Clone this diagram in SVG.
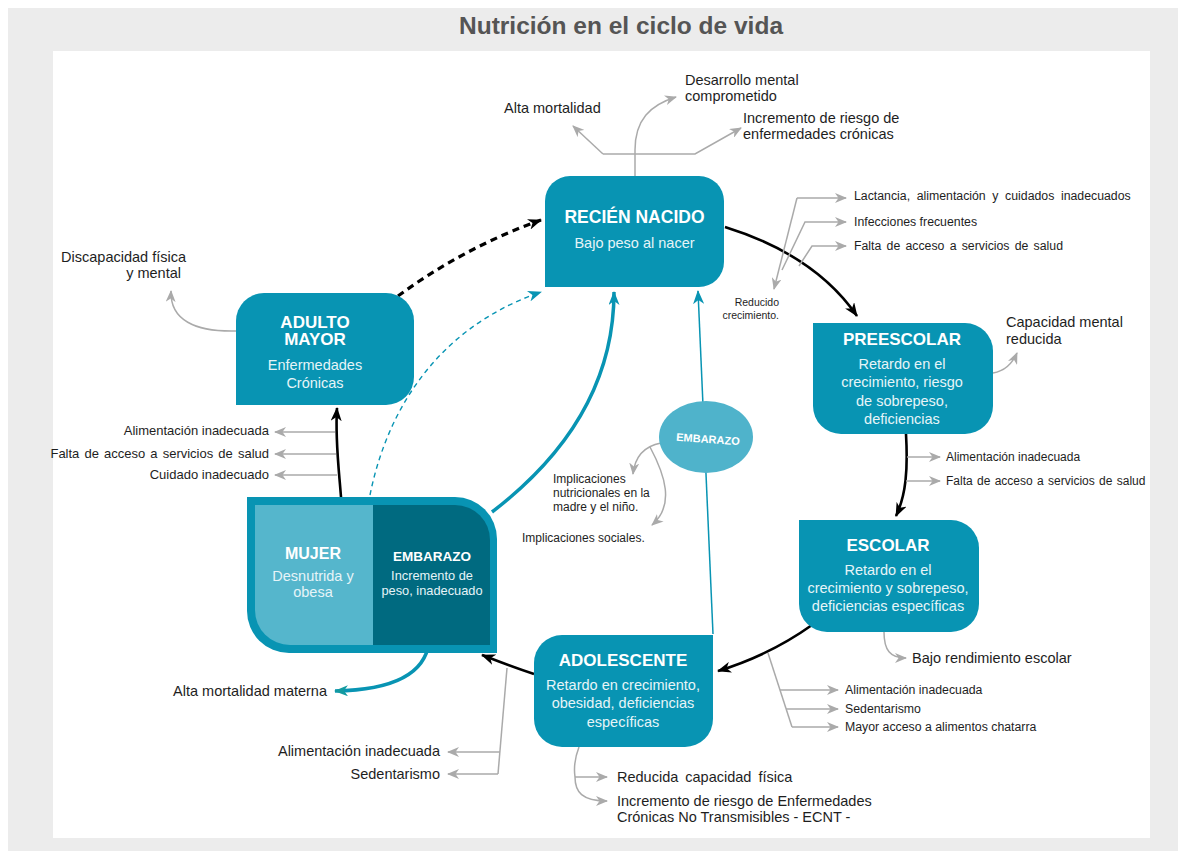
<svg xmlns="http://www.w3.org/2000/svg" width="1186" height="857" viewBox="0 0 1186 857">
<defs>
<style>
.node{fill:#0894b3}
.t{font-family:"Liberation Sans",Arial,sans-serif;fill:#1e1e1e}
.nt{font-family:"Liberation Sans",Arial,sans-serif;fill:#ffffff;font-weight:bold;text-anchor:middle}
.ns{font-family:"Liberation Sans",Arial,sans-serif;fill:#e6f4f8;text-anchor:middle;font-size:14.5px}
.g{fill:none;stroke:#aaaaaa;stroke-width:1.5}
.ga{fill:none;stroke:#aaaaaa;stroke-width:1.5;marker-end:url(#ag)}
.k{fill:none;stroke:#000;stroke-width:2.6;marker-end:url(#ak)}
.tl{fill:none;stroke:#0894b3;marker-end:url(#at)}
</style>
<marker id="ag" viewBox="0 0 12 10" refX="11" refY="5" markerWidth="12" markerHeight="10" markerUnits="userSpaceOnUse" orient="auto"><path d="M0,0 L12,5 L0,10 L3.5,5 z" fill="#aaaaaa"/></marker>
<marker id="ak" viewBox="0 0 14 11" refX="13" refY="5.5" markerWidth="14" markerHeight="11" markerUnits="userSpaceOnUse" orient="auto"><path d="M0,0 L14,5.5 L0,11 L4,5.5 z" fill="#000"/></marker>
<marker id="at" viewBox="0 0 14 11" refX="13" refY="5.5" markerWidth="14" markerHeight="11" markerUnits="userSpaceOnUse" orient="auto"><path d="M0,0 L14,5.5 L0,11 L4,5.5 z" fill="#0894b3"/></marker>
<marker id="at2" viewBox="0 0 14 11" refX="13" refY="5.5" markerWidth="14" markerHeight="11" markerUnits="userSpaceOnUse" orient="auto"><path d="M0,0 L14,5.5 L0,11 L4,5.5 z" fill="#139aa0"/></marker>
</defs>
<rect x="0" y="0" width="1186" height="857" fill="#ffffff"/>
<rect x="8" y="8" width="1170" height="843" fill="#ececec"/>
<rect x="53" y="51" width="1097" height="787" fill="#ffffff"/>
<text x="621" y="34" text-anchor="middle" font-family="Liberation Sans, Arial, sans-serif" font-weight="bold" font-size="24.5" fill="#555555">Nutrición en el ciclo de vida</text>

<g id="connectors">
<path class="k" d="M 725,227 Q 815,255 857,316"/>
<path class="k" d="M 906,434 C 908,470 906,495 896,516"/>
<path class="k" d="M 812,625 Q 770,655 718,671"/>
<path class="k" d="M 534,674 C 515,668 500,662 482,655"/>
<path class="k" d="M 341,497 C 339,470 335,440 337,408"/>
<path d="M 398,296 C 440,265 490,238 541,220" fill="none" stroke="#000" stroke-width="3.2" stroke-dasharray="7,5" marker-end="url(#ak)"/>
<path class="tl" d="M 370,495 C 385,420 430,330 541,292" stroke-width="1.4" stroke-dasharray="5,4"/>
<path class="tl" d="M 492,512 C 560,460 614,390 614,292" stroke-width="3.5"/>
<path class="tl" d="M 713,634 L 698,291" stroke-width="1.5"/>
<path d="M 429,642 C 425,675 390,690 335,691" fill="none" stroke="#0894b3" stroke-width="3.5" marker-end="url(#at2)"/>
<path class="ga" d="M 635,176 L 635,150 C 635,120 650,105 676,97"/>
<path class="ga" d="M 603,154 L 573,126"/>
<path class="ga" d="M 603,154 L 695,154 L 741,128"/>
<path class="ga" d="M 797,198 L 774,289"/>
<path class="ga" d="M 797,198 L 846,198"/>
<path class="ga" d="M 782,270 L 805,222 L 846,222"/>
<path class="ga" d="M 799,266 L 812,246 L 846,246"/>
<path class="ga" d="M 993,373 C 1005,371 1013,362 1017,353"/>
<path class="ga" d="M 907,457 L 940,457"/>
<path class="ga" d="M 906,481 L 940,481"/>
<path class="ga" d="M 884,632 C 884,650 890,658 906,658"/>
<path class="g" d="M 768,653 L 792,727"/>
<path class="ga" d="M 780,690 L 838,690"/>
<path class="ga" d="M 786,709 L 838,709"/>
<path class="ga" d="M 792,727 L 838,727"/>
<path class="g" d="M 507,668 L 498,774"/>
<path class="ga" d="M 500,752 L 448,752"/>
<path class="ga" d="M 498,774 L 448,774"/>
<path class="g" d="M 579,747 C 574,760 574,770 575,777"/>
<path class="ga" d="M 575,777 L 607,777"/>
<path class="ga" d="M 575,777 C 575,792 582,801 607,801"/>
<path class="ga" d="M 236,331 C 195,332 170,320 171,291"/>
<path class="ga" d="M 335,432 L 275,432"/>
<path class="ga" d="M 336,454 L 275,454"/>
<path class="ga" d="M 337,475 L 275,475"/>
<path class="ga" d="M 661,443 C 645,446 635,456 633,474"/>
<path class="ga" d="M 650,447 C 665,475 675,505 652,525"/>
</g>

<g id="recien-nacido">
<path class="node" d="M 570,176 L 699,176 A 25 25 0 0 1 724,201 L 724,262 A 25 25 0 0 1 699,287 L 545,287 L 545,201 A 25 25 0 0 1 570,176 Z"/>
<text class="nt" x="634.5" y="223" font-size="17.5">RECIÉN NACIDO</text>
<text class="ns" x="634.5" y="248">Bajo peso al nacer</text>
</g>

<g id="adulto-mayor">
<path class="node" d="M 264,293 L 386,293 A 28 28 0 0 1 414,321 L 414,377 A 28 28 0 0 1 386,405 L 236,405 L 236,321 A 28 28 0 0 1 264,293 Z"/>
<text class="nt" x="315" y="328" font-size="17">ADULTO</text>
<text class="nt" x="315" y="345" font-size="17">MAYOR</text>
<text class="ns" x="315" y="370">Enfermedades</text>
<text class="ns" x="315" y="388">Crónicas</text>
</g>

<g id="preescolar">
<path class="node" d="M 813,323 L 965,323 A 28 28 0 0 1 993,351 L 993,406 A 28 28 0 0 1 965,434 L 841,434 A 28 28 0 0 1 813,406 Z"/>
<text class="nt" x="902" y="345" font-size="17">PREESCOLAR</text>
<text class="ns" x="902" y="369">Retardo en el</text>
<text class="ns" x="902" y="387">crecimiento, riesgo</text>
<text class="ns" x="902" y="406">de sobrepeso,</text>
<text class="ns" x="902" y="424">deficiencias</text>
</g>

<g id="escolar">
<path class="node" d="M 799,520 L 951,520 A 28 28 0 0 1 979,548 L 979,604 A 28 28 0 0 1 951,632 L 827,632 A 28 28 0 0 1 799,604 Z"/>
<text class="nt" x="888" y="551" font-size="17">ESCOLAR</text>
<text class="ns" x="888" y="575">Retardo en el</text>
<text class="ns" x="888" y="593">crecimiento y sobrepeso,</text>
<text class="ns" x="888" y="611">deficiencias específicas</text>
</g>

<g id="adolescente">
<path class="node" d="M 562,635 L 713,635 L 713,719 A 28 28 0 0 1 685,747 L 562,747 A 28 28 0 0 1 534,719 L 534,663 A 28 28 0 0 1 562,635 Z"/>
<text class="nt" x="623" y="666" font-size="17">ADOLESCENTE</text>
<text class="ns" x="623" y="690">Retardo en crecimiento,</text>
<text class="ns" x="623" y="708">obesidad, deficiencias</text>
<text class="ns" x="623" y="727">específicas</text>
</g>

<g id="mujer-embarazo">
<path fill="#0894b3" d="M 247,497 L 455,497 A 42 42 0 0 1 497,539 L 497,653 L 289,653 A 42 42 0 0 1 247,611 Z"/>
<path fill="#55b6cc" d="M 255,505 L 373,505 L 373,645 L 290,645 A 35 35 0 0 1 255,610 Z"/>
<path fill="#006a80" d="M 373,505 L 455,505 A 35 35 0 0 1 490,540 L 490,645 L 373,645 Z"/>
<text class="nt" x="313" y="559" font-size="16">MUJER</text>
<text class="ns" x="313" y="581" font-size="14">Desnutrida y</text>
<text class="ns" x="313" y="597" font-size="14">obesa</text>
<text class="nt" x="432" y="561" font-size="13.5">EMBARAZO</text>
<text class="ns" x="432" y="580" style="font-size:12.8px">Incremento de</text>
<text class="ns" x="432" y="595" style="font-size:12.8px">peso, inadecuado</text>
</g>

<g id="embarazo-ovalo">
<ellipse cx="706" cy="437" rx="47" ry="36" fill="#4fb3cb"/>
<text class="nt" x="708" y="443" font-size="11" transform="rotate(4 708 439)">EMBARAZO</text>
</g>

<g id="labels" class="t">
<text x="504" y="113" font-size="14.5">Alta mortalidad</text>
<text x="685" y="85" font-size="14.5">Desarrollo mental</text>
<text x="685" y="101" font-size="14.5">comprometido</text>
<text x="743" y="123" font-size="14.5">Incremento de riesgo de</text>
<text x="743" y="139" font-size="14.5">enfermedades crónicas</text>
<text x="854" y="200" font-size="12.3" word-spacing="3.2">Lactancia, alimentación y cuidados inadecuados</text>
<text x="854" y="226" font-size="12.3">Infecciones frecuentes</text>
<text x="854" y="250" font-size="12.3" word-spacing="1.8">Falta de acceso a servicios de salud</text>
<text x="779" y="306" font-size="10.5" text-anchor="end">Reducido</text>
<text x="779" y="319" font-size="10.5" text-anchor="end">crecimiento.</text>
<text x="1006" y="327" font-size="14.5">Capacidad mental</text>
<text x="1006" y="344" font-size="14.5">reducida</text>
<text x="946" y="461" font-size="12">Alimentación inadecuada</text>
<text x="946" y="485" font-size="12" word-spacing="1">Falta de acceso a servicios de salud</text>
<text x="912" y="663" font-size="14.5">Bajo rendimiento escolar</text>
<text x="845" y="694" font-size="12.3">Alimentación inadecuada</text>
<text x="845" y="713" font-size="12.3">Sedentarismo</text>
<text x="845" y="731" font-size="12.3">Mayor acceso a alimentos chatarra</text>
<text x="617" y="782" font-size="14.5" word-spacing="3">Reducida capacidad física</text>
<text x="617" y="806" font-size="14.5">Incremento de riesgo de Enfermedades</text>
<text x="617" y="822" font-size="14.5">Crónicas No Transmisibles - ECNT -</text>
<text x="440" y="756" font-size="14.5" text-anchor="end">Alimentación inadecuada</text>
<text x="440" y="779" font-size="14.5" text-anchor="end">Sedentarismo</text>
<text x="327" y="696" font-size="14.5" text-anchor="end">Alta mortalidad materna</text>
<text x="269" y="435" font-size="13" text-anchor="end">Alimentación inadecuada</text>
<text x="269" y="458" font-size="13" text-anchor="end" word-spacing="1.5">Falta de acceso a servicios de salud</text>
<text x="269" y="479" font-size="13" text-anchor="end">Cuidado inadecuado</text>
<text x="186" y="262" font-size="14.5" text-anchor="end">Discapacidad física</text>
<text x="181" y="278" font-size="14.5" text-anchor="end">y mental</text>
<text x="553" y="483" font-size="12">Implicaciones</text>
<text x="553" y="497" font-size="12">nutricionales en la</text>
<text x="553" y="511" font-size="12">madre y el niño.</text>
<text x="522" y="542" font-size="12">Implicaciones sociales.</text>
</g>
</svg>
